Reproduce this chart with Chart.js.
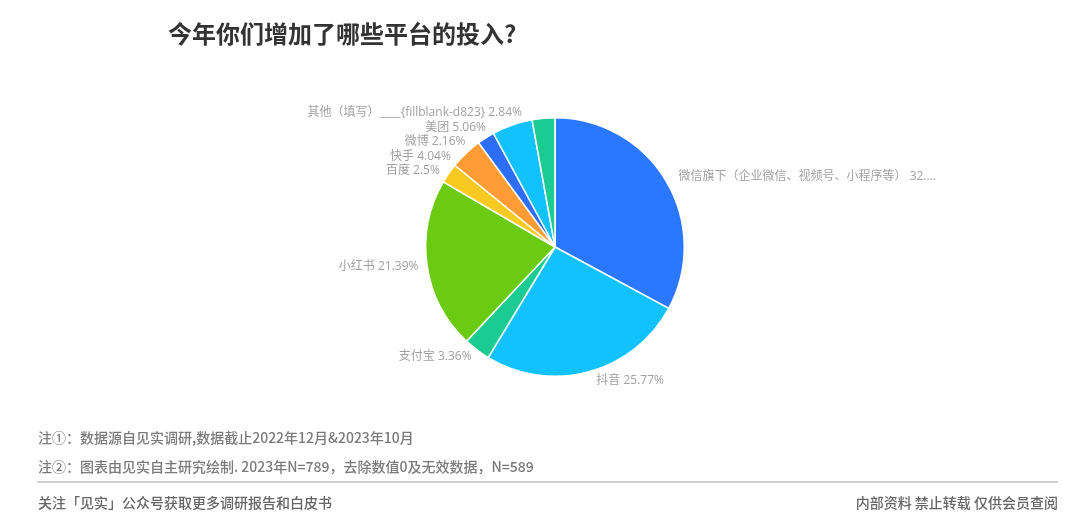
<!DOCTYPE html>
<html>
<head>
<meta charset="utf-8">
<script src="https://cdn.jsdelivr.net/npm/chart.js@4.4.0/dist/chart.umd.min.js"></script>
<style>
  html, body { margin: 0; padding: 0; background: #fff; }
  body { width: 1080px; height: 530px; position: relative; overflow: hidden;
         font-family: "Noto Sans CJK SC", "Noto Sans", sans-serif; }
  #wrap { position: absolute; left: 0; top: 0; width: 1080px; height: 530px; }
  .t { position: absolute; white-space: nowrap; }
  #title { left: 168px; top: 17px; font-size: 24px; font-weight: 700; color: #333; line-height: 32px; }
  .note { left: 38px; font-size: 14px; font-weight: 500; color: #7a7a7a; line-height: 20px; }
  #rule { position: absolute; left: 37px; width: 1021px; top: 481px; height: 2px; background: #d0d0d0; }
  .foot { top: 492px; font-size: 14px; font-weight: 500; color: #666; line-height: 20px; }
</style>
</head>
<body>
<div id="wrap"><canvas id="c" width="1080" height="530"></canvas></div>
<div class="t" id="title">今年你们增加了哪些平台的投入?</div>
<div class="t note" style="top:427px">注①：数据源自见实调研,数据截止2022年12月&amp;2023年10月</div>
<div class="t note" style="top:456px">注②：图表由见实自主研究绘制. 2023年N=789，去除数值0及无效数据，N=589</div>
<div id="rule"></div>
<div class="t foot" style="left:38px">关注「见实」公众号获取更多调研报告和白皮书</div>
<div class="t foot" style="right:22px">内部资料 禁止转载 仅供会员查阅</div>
<script>
const categories = ["微信旗下（企业微信、视频号、小程序等）", "抖音", "支付宝", "小红书", "百度", "快手", "微博", "美团", "其他（填写）____{fillblank-d823}"];
const values = [32.88, 25.77, 3.36, 21.39, 2.5, 4.04, 2.16, 5.06, 2.84];
const palette = ["#2A78FF", "#12C2FE", "#1BCC92", "#6BCA12", "#F8C920", "#FF9C34"];
const colors = values.map((v, i) => i === 6 ? "#2D6EF7" : palette[i % palette.length]);

const labelPlugin = {
  id: 'outLabels',
  afterDatasetsDraw(chart) {
    const ctx = chart.ctx;
    const meta = chart.getDatasetMeta(0);
    const R = 138;
    const items = meta.data.map((arc, i) => {
      const mid = (arc.startAngle + arc.endAngle) / 2;
      const cx = arc.x, cy = arc.y;
      const y = cy + Math.sin(mid) * R;
      const right = Math.cos(mid) >= 0;
      return { i, cx, cy, y, right, text: categories[i] + ' ' + values[i] + '%' };
    });
    const top = chart.chartArea.top - 4;
    const gap = 14.5;
    ['left', 'right'].forEach(side => {
      const group = items.filter(it => (side === 'right') === it.right).sort((a, b) => a.y - b.y);
      let prev = -Infinity;
      group.forEach(it => {
        let y = Math.max(it.y, top, prev + gap);
        it.y = y;
        prev = y;
      });
    });
    ctx.save();
    ctx.font = '12px "Open Sans", "Noto Sans CJK SC", sans-serif';
    ctx.fillStyle = '#a0a0a0';
    ctx.textBaseline = 'middle';
    const maxW = 261;
    items.forEach(it => {
      const dy = it.y - it.cy;
      const dx = Math.sqrt(Math.max(0, R * R - dy * dy));
      let txt = it.text;
      if (ctx.measureText(txt).width > maxW) {
        let s = txt;
        while (s.length > 0 && ctx.measureText(s + '...').width > maxW) s = s.slice(0, -1);
        txt = s + '...';
      }
      if (it.right) {
        ctx.textAlign = 'left';
        ctx.fillText(txt, it.cx + dx + 5, it.y);
      } else {
        ctx.textAlign = 'right';
        ctx.fillText(txt, it.cx - dx, it.y);
      }
    });
    ctx.restore();
  }
};

new Chart(document.getElementById('c'), {
  type: 'pie',
  data: {
    labels: categories,
    datasets: [{
      data: values,
      backgroundColor: colors,
      borderColor: '#ffffff',
      borderWidth: 1.5
    }]
  },
  options: {
    responsive: false,
    animation: false,
    layout: { padding: { left: 425, right: 395, top: 117, bottom: 153 } },
    plugins: { legend: { display: false }, tooltip: { enabled: false } }
  },
  plugins: [labelPlugin]
});
</script>
</body>
</html>
